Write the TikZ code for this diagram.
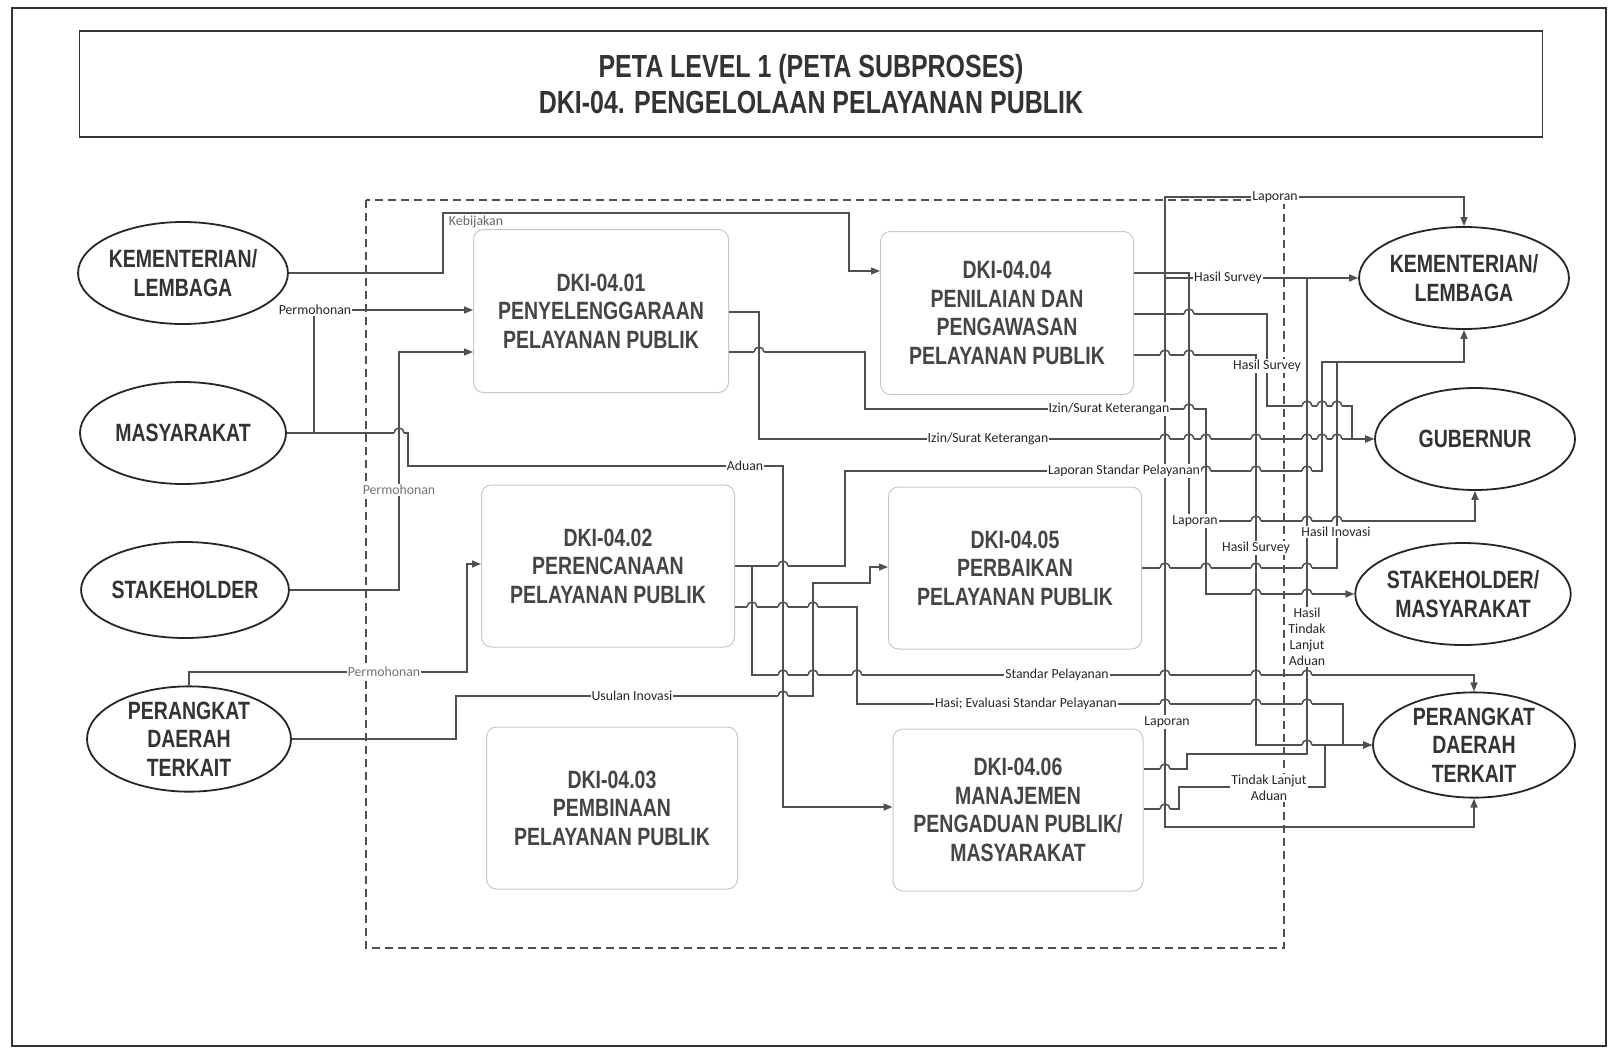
\documentclass[tikz,border=0pt]{standalone}
\usepackage{fontspec}
\setmainfont{Liberation Sans}
\newfontfamily\cond[FakeStretch=0.78]{Liberation Sans}
\newfontfamily\lab{Carlito}
\usetikzlibrary{shapes.geometric,arrows.meta}
\definecolor{ink}{HTML}{454545}
\definecolor{lnc}{HTML}{505050}
\definecolor{boxc}{HTML}{c8c8c8}
\begin{document}
\begin{tikzpicture}[x=1pt,y=-1pt,
  ell/.style={ellipse,draw=black!85,line width=1.8pt,align=center,inner sep=0pt,
    font=\cond\bfseries\fontsize{25}{28.5}\selectfont,text=black!80},
  pbox/.style={draw=boxc,line width=1pt,rounded corners=10pt,align=center,
    font=\cond\bfseries\fontsize{25}{28.5}\selectfont,text=ink},
  ln/.style={draw=lnc,line width=1.5pt},
  arr/.style={ln,-{Triangle[length=9pt,width=7pt]}},
  lbl/.style={font=\lab\fontsize{13.8}{15}\selectfont,text=black!85,fill=white,inner sep=1pt,align=center},
  glbl/.style={lbl,text=black!55},
]
\useasboundingbox (0,0) rectangle (1610,1050);
\fill[white] (0,0) rectangle (1610,1050);
\draw[line width=1.5pt,black!80] (12,8) rectangle (1606,1046);

% title
\node[draw=black!80,line width=1.3pt,minimum width=1463pt,minimum height=106pt,align=center,
  font=\cond\bfseries\fontsize{32}{36}\selectfont,text=black!80] (title) at (811,84)
  {PETA LEVEL 1 (PETA SUBPROSES)\\DKI-04. PENGELOLAAN PELAYANAN PUBLIK};

% dashed boundary
\draw[lnc,line width=1.2pt,dash pattern=on 8pt off 5pt] (366,200) rectangle (1284,948);

% left ellipses
\node[ell,minimum width=206pt,minimum height=102pt] (kl) at (183,273) {KEMENTERIAN/\\LEMBAGA};
\node[ell,minimum width=206pt,minimum height=102pt] (ms) at (183,433) {MASYARAKAT};
\node[ell,minimum width=206pt,minimum height=96pt] (sh) at (185,590) {STAKEHOLDER};
\node[ell,minimum width=204pt,minimum height=104pt] (pd) at (189,739) {PERANGKAT\\DAERAH\\TERKAIT};

% right ellipses
\node[ell,minimum width=204pt,minimum height=102pt] (rkl) at (1464,278) {KEMENTERIAN/\\LEMBAGA};
\node[ell,minimum width=200pt,minimum height=102pt] (gb) at (1475,439) {GUBERNUR};
\node[ell,minimum width=200pt,minimum height=102pt] (sm) at (1463,594) {STAKEHOLDER/\\MASYARAKAT};
\node[ell,minimum width=202pt,minimum height=102pt] (rpd) at (1474,745) {PERANGKAT\\DAERAH\\TERKAIT};

% process boxes
\node[pbox,minimum width=255pt,minimum height=163pt] (b01) at (601,311) {DKI-04.01\\PENYELENGGARAAN\\PELAYANAN PUBLIK};
\node[pbox,minimum width=253pt,minimum height=162pt] (b02) at (608,566) {DKI-04.02\\PERENCANAAN\\PELAYANAN PUBLIK};
\node[pbox,minimum width=251pt,minimum height=162pt] (b03) at (612,808) {DKI-04.03\\PEMBINAAN\\PELAYANAN PUBLIK};
\node[pbox,minimum width=253pt,minimum height=163pt] (b04) at (1007,313) {DKI-04.04\\PENILAIAN DAN\\PENGAWASAN\\PELAYANAN PUBLIK};
\node[pbox,minimum width=253pt,minimum height=162pt] (b05) at (1015,568) {DKI-04.05\\PERBAIKAN\\PELAYANAN PUBLIK};
\node[pbox,minimum width=250pt,minimum height=162pt] (b06) at (1018,810) {DKI-04.06\\MANAJEMEN\\PENGADUAN PUBLIK/\\MASYARAKAT};

% ---- connectors, left side
\draw[arr] (kl.east) -- (443,273) -- (443,213) -- (849,213) -- (849,271) -- (b04.west |- 0,271);
\draw[arr] (ms.east) -- (408,433) -- (408,466) -- (783,466) -- (783,807) -- (b06.west |- 0,807);
\draw[arr] (314,433) -- (314,310) -- (b01.west |- 0,310);
\draw[arr] (sh.east) -- (399,590) -- (399,352) -- (b01.west |- 0,352);
\draw[arr] (pd.north) -- (189,672) -- (467,672) -- (467,564) -- (b02.west |- 0,564);
\draw[arr] (pd.east) -- (456,739) -- (456,696) -- (813,696) -- (813,583) -- (870,583) -- (870,567) -- (b05.west |- 0,567);

% 04.01 outputs
\draw[arr] (b01.east |- 0,312) -- (759,312) -- (759,439) -- (gb.west);
\draw[arr] (b01.east |- 0,352) -- (865,352) -- (865,409) -- (1206,409) -- (1206,594) -- (sm.west);

% 04.02 outputs
\draw[arr] (b02.east |- 0,566) -- (845,566) -- (845,471) -- (1322,471) -- (1322,362) -| (rkl.south);
\draw[arr] (752,566) -- (752,675) -| (rpd.north);
\draw[arr] (b02.east |- 0,607) -- (857,607) -- (857,704) -- (1343,704) -- (1343,745) -- (rpd.west);

% 04.04 outputs
\draw[arr] (b04.east |- 0,273) -- (1189,273) -- (1189,521) -| (gb.south);
\draw[arr] (b04.east |- 0,314) -- (1267,314) -- (1267,406) -- (1352,406) -- (1352,439) -- (gb.west);
\draw[arr] (b04.east |- 0,355) -- (1256,355) -- (1256,745) -- (rpd.west);

% 04.05 output
\draw[ln] (b05.east |- 0,568) -- (1337,568) -- (1337,362);

% 04.06 outputs
\draw[ln] (b06.east |- 0,769) -- (1187,769) -- (1187,754) -- (1307,754) -- (1307,278);
\draw[arr] (1165,278) -- (rkl.west);
\draw[ln] (b06.east |- 0,809) -- (1179,809) -- (1179,787) -- (1325,787) -- (1325,745);
\draw[arr] (1165,722) -- (1165,197) -| (rkl.north);
\draw[arr] (1165,722) -- (1165,827) -| (rpd.south);

% line hops
\foreach \hx/\hy in {399/433,759/352,783/566,752/607,783/607,813/607,783/675,813/675,857/675,783/696,
  1165/355,1189/355,1189/314,1307/406,1322/406,1337/406,1189/409,
  1165/439,1189/439,1206/439,1256/439,1307/439,1322/439,1337/439,
  1206/471,1256/471,1307/471,1256/521,1307/521,1337/521,
  1165/568,1206/568,1256/568,1307/568,1256/594,1307/594,
  1165/675,1256/675,1307/675,1165/704,1256/704,1307/704,1307/745,1165/769,1165/809}{
  \fill[white] (\hx-5.2,\hy-2) rectangle (\hx+5.2,\hy+2);
  \draw[ln] (\hx,\hy-3) -- (\hx,\hy+3);
  \draw[ln] (\hx-5,\hy) arc[start angle=180,end angle=0,radius=5pt];
}

% labels
\node[lbl,fill=none,text=black!60] (tkeb) at (476,222) {Kebijakan};
\node[lbl] (tper1) at (315,310) {Permohonan};
\node[glbl] (tper2) at (399,490) {Permohonan};
\node[glbl] (tper3) at (384,672) {Permohonan};
\node[lbl] (tusl) at (632,696) {Usulan Inovasi};
\node[lbl] (tadu) at (745,466) {Aduan};
\node[lbl] (tizu) at (1109,409) {Izin/Surat Keterangan};
\node[lbl] (tizl) at (988,439) {Izin/Surat Keterangan};
\node[lbl] (tlsp) at (1124,471) {Laporan Standar Pelayanan};
\node[lbl] (tsp) at (1057,675) {Standar Pelayanan};
\node[lbl] (tev) at (1026,704) {Hasi; Evaluasi Standar Pelayanan};
\node[lbl] (tlap1) at (1275,197) {Laporan};
\node[lbl] (ths1) at (1228,278) {Hasil Survey};
\node[lbl] (ths2) at (1267,366) {Hasil Survey};
\node[lbl] (tlap2) at (1195,521) {Laporan};
\node[lbl] (thi) at (1336,532) {Hasil Inovasi};
\node[lbl] (ths3) at (1256,548) {Hasil Survey};
\node[lbl,font=\lab\fontsize{13.8}{16}\selectfont] (thtl) at (1307,637) {Hasil\\Tindak\\Lanjut\\Aduan};
\node[lbl] (tlap3) at (1167,722) {Laporan};
\node[lbl,font=\lab\fontsize{13.8}{16}\selectfont] (ttla) at (1269,788) {Tindak Lanjut\\Aduan};
\end{tikzpicture}
\end{document}
